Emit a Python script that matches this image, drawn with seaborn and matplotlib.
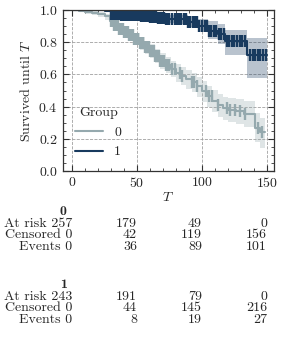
import os
import numpy as np
import pandas as pd
import seaborn as sns
import matplotlib
matplotlib.use("Agg")
import matplotlib.pyplot as plt
import matplotlib.transforms as mtransforms
from matplotlib import font_manager
from matplotlib.ticker import MultipleLocator

# ---- data ----
groups = ["0", "1"]
colors = {"0": "#95a9ae", "1": "#183a5e"}

# group 0: step times, survival, confidence band
times0 = [0, 5, 10, 15, 20, 25, 29, 32, 36, 40, 44, 48, 52, 56, 60, 64, 68, 72, 76,
          80, 84, 88, 92, 96, 100, 104, 108, 112, 116, 120, 126, 132, 141, 145]
surv0 = [1.0, 0.995, 0.99, 0.983, 0.975, 0.962, 0.93, 0.905, 0.885, 0.865, 0.845,
         0.82, 0.795, 0.77, 0.745, 0.715, 0.685, 0.66, 0.635, 0.61, 0.59, 0.57,
         0.55, 0.525, 0.495, 0.465, 0.435, 0.41, 0.39, 0.38, 0.37, 0.355, 0.27, 0.24]
lo0 = [1.0, 0.985, 0.978, 0.968, 0.957, 0.94, 0.9, 0.872, 0.85, 0.828, 0.806,
       0.78, 0.753, 0.726, 0.7, 0.668, 0.636, 0.608, 0.582, 0.555, 0.533, 0.511,
       0.489, 0.462, 0.43, 0.397, 0.365, 0.338, 0.315, 0.303, 0.29, 0.272, 0.18, 0.14]
hi0 = [1.0, 1.0, 0.997, 0.993, 0.988, 0.978, 0.953, 0.932, 0.915, 0.898, 0.88,
       0.857, 0.834, 0.81, 0.787, 0.759, 0.732, 0.708, 0.686, 0.662, 0.645, 0.627,
       0.609, 0.586, 0.558, 0.53, 0.502, 0.48, 0.462, 0.455, 0.448, 0.437, 0.36, 0.33]
end0 = 148.5
cens0 = [30, 31, 32, 33, 34, 35, 36, 37, 38, 39, 40, 41, 42, 43, 44, 45, 46, 47, 48,
         49, 50, 51, 52, 53, 54, 55, 56, 57, 58, 59, 60, 61, 62, 63, 64, 65, 66, 67,
         68, 69, 70.5, 72, 73.5, 75, 77, 79, 83, 85, 92, 94, 96, 103.5, 105.5,
         107.5, 112, 119, 121.5, 125.5, 129, 133, 143, 146]

# group 1
times1 = [0, 25, 30, 38, 45, 53, 60, 66, 72, 80, 89, 97, 105, 112, 118, 134.6]
surv1 = [1.0, 0.995, 0.978, 0.972, 0.966, 0.96, 0.955, 0.95, 0.947, 0.942, 0.928,
         0.9, 0.868, 0.848, 0.81, 0.72]
lo1 = [1.0, 0.985, 0.962, 0.955, 0.947, 0.94, 0.933, 0.927, 0.922, 0.912, 0.895,
       0.862, 0.818, 0.79, 0.72, 0.58]
hi1 = [1.0, 1.0, 0.99, 0.987, 0.983, 0.979, 0.975, 0.972, 0.97, 0.968, 0.96,
       0.945, 0.93, 0.915, 0.875, 0.826]
end1 = 149.7
cens1 = [30, 31, 32, 33, 34, 35, 36, 37, 38, 39, 40, 41, 42, 43, 44, 45, 46, 47, 48,
         49, 50, 51, 52, 53, 54, 55, 56, 57, 58, 59, 60, 61.5, 63, 64.5, 66, 67.5,
         69, 70.5, 72, 73.5, 75, 77, 79, 80.5, 82, 84, 86, 87.5, 89, 91, 93, 94.5,
         96, 98, 100, 102, 104, 105.5, 107, 109, 111, 113, 115, 117, 119, 121, 123,
         125, 127, 129, 131, 133, 137, 139, 141, 143, 145, 147, 149]

# at-risk table
table_times = [0, 50, 100, 150]
at_risk = {"0": [257, 179, 49, 0], "1": [243, 191, 79, 0]}
censored = {"0": [0, 42, 119, 156], "1": [0, 44, 145, 216]}
events = {"0": [0, 36, 89, 101], "1": [0, 8, 19, 27]}

# ---- style ----
sns.set_style("ticks")
ttf_dir = os.path.join(matplotlib.get_data_path(), "fonts", "ttf")
for name in ["cmr10.ttf", "cmb10.ttf", "cmmi10.ttf"]:
    path = os.path.join(ttf_dir, name)
    if os.path.exists(path):
        font_manager.fontManager.addfont(path)
plt.rcParams["font.family"] = ["cmr10", "DejaVu Serif"]
plt.rcParams["mathtext.fontset"] = "cm"
plt.rcParams["axes.formatter.use_mathtext"] = True
plt.rcParams["font.size"] = 10
plt.rcParams["axes.unicode_minus"] = False
bold_font = font_manager.FontProperties(fname=os.path.join(ttf_dir, "cmb10.ttf"), size=10)

fig = plt.figure(figsize=(2.82, 3.53), dpi=100)
ax = fig.add_axes([0.2223, 0.5156, 0.749, 0.456])

curves = {
    "0": (times0, surv0, lo0, hi0, end0, cens0),
    "1": (times1, surv1, lo1, hi1, end1, cens1),
}

rows = []
for g in groups:
    t, s, lo, hi, end, cens = curves[g]
    tt = list(t) + [end]
    ss = list(s) + [s[-1]]
    ll = list(lo) + [lo[-1]]
    hh = list(hi) + [hi[-1]]
    ax.fill_between(tt, ll, hh, step="post", color=colors[g], alpha=0.3, lw=0)
    for a, b in zip(tt, ss):
        rows.append({"T": a, "S": b, "Group": g})

df = pd.DataFrame(rows)
sns.lineplot(data=df, x="T", y="S", hue="Group", palette=colors,
             drawstyle="steps-post", estimator=None, lw=1.5, ax=ax)

for g in groups:
    t, s, lo, hi, end, cens = curves[g]
    idx = np.searchsorted(t, cens, side="right") - 1
    cy = np.asarray(s)[idx]
    ax.plot(cens, cy, ls="none", marker="|", ms=9, mew=1.7, color=colors[g])

ax.set_xlim(-7.2, 155.4)
ax.set_ylim(0, 1.0)
ax.xaxis.set_major_locator(MultipleLocator(50))
ax.xaxis.set_minor_locator(MultipleLocator(10))
ax.yaxis.set_major_locator(MultipleLocator(0.2))
ax.yaxis.set_minor_locator(MultipleLocator(0.05))
ax.tick_params(which="both", direction="in", top=True, right=True, color="#333333")
ax.tick_params(which="major", length=4, width=0.8)
ax.tick_params(which="minor", length=2, width=0.6)
for sp in ax.spines.values():
    sp.set_color("#333333")
    sp.set_linewidth(0.9)
ax.grid(True, which="major", ls="--", color="#a0a0a0", lw=0.6)
ax.set_axisbelow(True)
ax.set_xlabel("$T$", labelpad=1)
ax.set_ylabel("Survived until $T$")

sns.move_legend(ax, "lower left", frameon=False, title="Group")

# ---- at-risk table below the axes ----
trans = mtransforms.blended_transform_factory(ax.transData, fig.transFigure)
H = 353.0
header_y = {"0": 212, "1": 285}
for g in groups:
    y0 = header_y[g]
    ax.text(-4, 1 - y0 / H, g, transform=trans, fontproperties=bold_font,
            ha="right", va="center", clip_on=False)
    table = [("At risk", at_risk[g]), ("Censored", censored[g]), ("Events", events[g])]
    for k, (name, vals) in enumerate(table):
        yy = 1 - (y0 + 11.5 + 11.8 * k) / H
        ax.text(table_times[0], yy, f"{name} {vals[0]}", transform=trans,
                ha="right", va="center", clip_on=False)
        for tt, v in zip(table_times[1:], vals[1:]):
            ax.text(tt, yy, str(v), transform=trans, ha="right", va="center",
                    clip_on=False)

fig.savefig("out.png", dpi=100)
